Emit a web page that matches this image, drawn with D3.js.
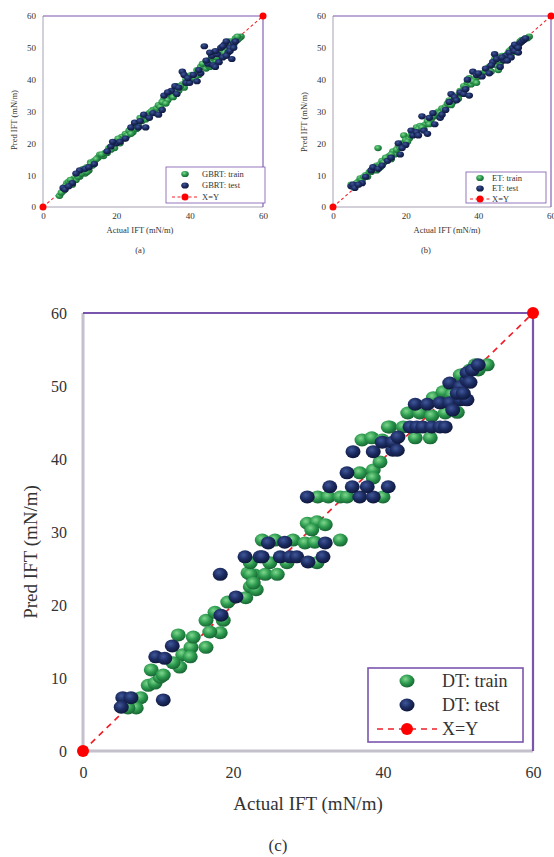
<!DOCTYPE html>
<html>
<head>
<meta charset="utf-8"/>
<title>IFT prediction scatter</title>
<script src="https://cdn.jsdelivr.net/npm/d3@7"></script>
<style>
  body{margin:0;background:#fff;}
  svg text{font-family:"Liberation Serif","Times New Roman","DejaVu Serif",serif;fill:#333;}
</style>
</head>
<body>
<svg id="chart" width="554" height="857"></svg>
<script>
// tick values
var yTicks = [0, 10, 20, 30, 40, 50, 60];
var xTicks = [0, 20, 40, 60];
var diag = [[0, 0], [60, 60]];
var SERIF = "'Liberation Serif', 'Times New Roman', serif";

// (a) GBRT  [actual, predicted]
var gbrtTrain = [[4.5,3.5],[5.5,5],[6.5,7.5],[7,8],[7.5,7.5],[8,8.5],[8.5,9],[9,8.5],[10,10],[11,11],[11.5,10.5],[12,12.5],[13,14],[13.5,13],[14,14.5],[15,15.5],[15.5,16.5],[16.5,16],[17,17],[18,18.5],[19,19],[19.5,18.5],[20,20.5],[21,21],[21.5,22],[22,21.5],[22.5,23],[23,22.5],[24,24.5],[25,26],[26,25.5],[26.5,28],[27,27],[28,27.5],[29,29.5],[30,30.5],[31,31],[31.5,32],[32,31.5],[33,34],[34,33.5],[35,35],[36,37],[37,36.5],[38,38.5],[38.5,37.5],[39,40],[40,39.5],[41,41],[42,43],[42.5,41.5],[43,44],[44,45],[44.5,43.5],[45,46],[46,45.5],[46.5,47],[47,46],[48,48.5],[48.5,47.5],[49,49],[50,50.5],[50.5,49.5],[51,52],[52,51],[52.5,53],[53,52.5],[54,53.5],[53.5,53],[10,9.5],[12.5,11.5],[24.5,23.5],[36.5,38],[45.5,44],
    [5,4.5],[6,6.5],[7.5,8.5],[8,7],[9.5,9.5],[10.5,10.5],[11,12],[12,11],[13,13.5],[14.5,15],[16,16.5],[17.5,17],[18.5,18],[20.5,21.5],[21,20],[23.5,24],[24,23],[25.5,24.5],[27.5,28.5],[29.5,30],[30.5,29.5],[32.5,33],[33.5,32.5],[34.5,35.5],[35.5,34.5],[37.5,38],[39.5,39],[40.5,41.5],[41.5,40.5],[43.5,45],[45,44.5],[46,47],[47.5,47],[49.5,48.5],[51.5,51.5],[53,53.5]];
var gbrtTest = [[5.5,6],[6,5.5],[8,7.5],[10,11.5],[11.5,12],[12.5,12.5],[17.5,17.5],[18.5,19],[20,20],[21,20.5],[24,25],[25,26.5],[26,25],[27.5,29],[28,25],[30,29.5],[31.5,29],[32.5,30.5],[33,35],[35,36.5],[36,38],[37,37.5],[38,42.5],[38.5,41.5],[39,39],[40,39],[41,41.5],[42,39.5],[43,42],[44,50.5],[45,45],[46,47.5],[46.5,44.5],[47.5,48],[48,45.5],[48.5,50],[49,47],[49.5,51],[50,52],[50.5,48.5],[51,50],[51.5,46.5],[52,51.5],[52.5,52],[47,49],[44.5,46],
    [7,6.5],[9,10.5],[14,13.5],[19,20.5],[22.5,21.5],[26.5,27],[29,28],[34,36],[36.5,35.5],[39.5,40.5],[42.5,43],[45.5,48.5],[47,44],[49,50.5],[50,47.5],[51,49],[52,50]];

// (b) ET
var etTrain = [[5,7],[6,6.5],[7,8],[7.5,9],[8,8.5],[9,10],[9.5,9.5],[10,11],[11,12],[12,13],[12.4,18.5],[13,13.5],[13.5,14.5],[14,14],[15,15.5],[15.5,16],[16.5,17.5],[17,16.5],[18,19],[19,20],[19.5,22.5],[20,21],[21,21.5],[22,23],[22.5,24],[23,25],[24,25.5],[25,24.5],[25.5,26],[26,27],[27,27.5],[28,28.5],[29,30],[30,31],[31,31.5],[31.5,32.5],[32,33.5],[33,33],[34,35],[35,36.5],[36,38],[37,39],[37.5,40.5],[38,38.5],[39,40],[40,41],[41,42],[42,42.5],[43,44],[44,45.5],[44.5,46.5],[45,44.5],[46,45],[46.5,47.5],[47,46.5],[48,48],[49,49.5],[50,50.5],[51,51],[52,52.5],[53,53],[54,53.5],[45.5,43],[12,11.5],[16,15],[28.5,29.5],[34.5,34],
    [6.5,7.5],[8.5,9.5],[10.5,11],[11.5,12.5],[13,12.5],[14.5,15.5],[16,16.5],[17.5,18],[18.5,18.5],[20.5,20.5],[21.5,22.5],[23.5,24.5],[24.5,25],[26.5,26],[27.5,28.5],[29.5,29.5],[30.5,30.5],[32.5,32],[33.5,34],[35.5,35.5],[36.5,37.5],[38.5,39.5],[39.5,39],[40.5,41.5],[42.5,43.5],[43.5,42.5],[45.5,46],[47.5,47],[48.5,49],[49.5,48.5],[51.5,52],[53.5,53]];
var etTest = [[5,6.5],[5.5,7],[6,6],[8,7.5],[10.5,11.5],[11,12.5],[12.5,12],[15,14.5],[18.5,16.5],[18,20],[20,19.5],[21.5,24],[22,22.5],[23,23.5],[24.5,28.5],[25,24],[26,23],[27.5,29.5],[28,26],[29.5,28],[30,29],[32,33],[32.5,35.5],[33.5,34.5],[35,36],[36,35.5],[37,40],[37.5,35],[38.5,42.5],[39.5,41.5],[41,41],[42,43.5],[43,42],[44,45.5],[44.5,48],[46,44],[47,46],[47.5,47.5],[48.5,48.5],[49,47],[49.5,50],[50,49],[50.5,50.5],[51,48.5],[51.5,51.5],[52,52],[52.5,52.5],[53,53],
    [7,7],[9,9.5],[13.5,13],[16,15.5],[19,18.5],[23.5,22.5],[26.5,28],[31,30.5],[34,33.5],[36.5,37],[40,42],[43.5,44.5],[45,46.5],[46.5,47],[48,46],[50,51],[51,50]];

// (c) DT
var dtTrain = [[6.7,7.0],[7.7,7.3],[7.1,5.9],[6.0,5.9],[8.7,9.0],[9.6,9.3],[10.3,10.1],[9.1,11.1],[10.7,10.4],[12.7,15.9],[13.3,13.2],[12.9,11.5],[14.4,14.2],[14.7,15.6],[16.4,14.2],[14.3,12.9],[12.0,12.1],[16.4,17.9],[17.6,19.0],[18.7,17.9],[18.3,16.2],[19.3,20.4],[16.9,16.3],[21.7,21.0],[22.3,22.5],[22.9,24.1],[23.1,22.1],[22.0,24.4],[22.3,24.2],[24.3,24.2],[25.9,24.2],[22.7,23.0],[22.3,25.8],[24.9,25.8],[27.2,25.8],[31.2,25.8],[23.9,28.9],[25.6,28.9],[28.0,28.9],[29.6,28.5],[30.9,28.6],[34.3,28.9],[29.9,31.2],[31.2,31.4],[32.3,31.0],[30.5,30.3],[31.3,34.8],[32.7,34.8],[34.3,34.8],[35.2,34.8],[40.0,34.8],[36.9,38.1],[38.7,38.5],[38.7,37.4],[37.2,42.6],[38.5,42.9],[39.9,42.6],[40.9,44.4],[39.6,39.6],[40.7,44.4],[42.7,44.4],[44.3,42.9],[46.3,42.9],[43.3,46.3],[44.9,46.3],[46.5,45.9],[49.9,46.4],[48.3,46.3],[46.7,48.4],[48.0,49.2],[49.2,48.8],[50.3,51.5],[51.6,52.2],[52.3,52.9],[53.9,52.9],[52.7,52.2]];
var dtTest = [[5.3,7.3],[6.4,7.3],[5.1,6.0],[10.7,7.0],[9.7,12.9],[10.9,12.7],[11.9,14.4],[18.4,18.6],[20.4,21.1],[18.3,24.2],[21.6,26.6],[23.6,26.6],[23.9,26.6],[26.3,26.6],[27.6,26.6],[28.5,26.6],[30.0,25.9],[32.0,26.6],[24.7,28.5],[26.9,28.6],[32.3,28.5],[29.9,34.8],[32.9,36.2],[36.9,34.8],[38.7,34.8],[35.9,36.2],[37.9,36.2],[40.7,36.2],[35.2,38.1],[36.0,41.0],[38.7,41.0],[41.3,41.2],[39.9,42.3],[41.3,42.3],[42.0,43.0],[41.9,41.2],[43.6,44.4],[44.5,44.4],[45.3,44.4],[46.5,44.4],[47.6,44.4],[48.3,44.4],[44.3,47.5],[45.9,47.5],[47.6,47.7],[48.9,47.7],[50.3,48.1],[51.2,48.1],[49.3,46.7],[48.9,50.4],[50.3,49.9],[51.2,50.8],[49.9,49.0],[50.7,49.0],[51.2,51.8],[51.9,52.2],[52.7,52.9],[51.6,50.5]];

var svg = d3.select("#chart");
var defs = svg.append("defs");

function ball(id, c0, c1, c2){
    var g = defs.append("radialGradient").attr("id", id)
        .attr("cx", "40%").attr("cy", "35%").attr("r", "65%");
    g.append("stop").attr("offset", "0%").attr("stop-color", c0);
    g.append("stop").attr("offset", "55%").attr("stop-color", c1);
    g.append("stop").attr("offset", "100%").attr("stop-color", c2);
}
ball("gGreen", "#7fd88e", "#2c9a4e", "#186634");
ball("gNavy", "#40579a", "#1c2c62", "#0f183c");

function panel(o){
    var x = d3.scaleLinear().domain([0, 60]).range([o.left, o.right]);
    var y = d3.scaleLinear().domain([0, 60]).range([o.bottom, o.top]);
    var g = svg.append("g");
    var s = o.k; // size factor

    // frame: grey left/bottom, purple top/right
    g.append("line").attr("x1", x(0)).attr("x2", x(0)).attr("y1", y(0)).attr("y2", y(60))
        .attr("stroke", "#c4c0cc").attr("stroke-width", 3 * s);
    g.append("line").attr("x1", x(0)).attr("x2", x(60)).attr("y1", y(0)).attr("y2", y(0))
        .attr("stroke", "#c4c0cc").attr("stroke-width", 3 * s);
    g.append("line").attr("x1", x(0)).attr("x2", x(60)).attr("y1", y(60)).attr("y2", y(60))
        .attr("stroke", "#7a55ad").attr("stroke-width", 2.2 * s);
    g.append("line").attr("x1", x(60)).attr("x2", x(60)).attr("y1", y(60)).attr("y2", y(0))
        .attr("stroke", "#7a55ad").attr("stroke-width", 2.2 * s);

    var yAx = d3.axisLeft(y).tickValues(yTicks).tickSize(0).tickPadding(o.yPad);
    var gy = g.append("g").attr("transform", "translate(" + x(0) + ",0)").call(yAx);
    var xAx = d3.axisBottom(x).tickValues(xTicks).tickSize(0).tickPadding(o.xPad);
    var gx = g.append("g").attr("transform", "translate(0," + y(0) + ")").call(xAx);
    [gx, gy].forEach(function(a){
        a.attr("font-family", SERIF);
        a.select(".domain").remove();
        a.selectAll("text").style("font-family", SERIF)
            .style("font-size", o.tick + "px").attr("fill", "#333");
    });

    // diagonal
    g.append("line").attr("x1", x(0)).attr("y1", y(0)).attr("x2", x(60)).attr("y2", y(60))
        .attr("stroke", "#f0202a").attr("stroke-width", 1.3 * s + 0.4)
        .attr("stroke-dasharray", (6 * s) + "," + (5 * s));

    function dots(data, fill){
        g.append("g").selectAll("ellipse").data(data).enter().append("ellipse")
            .attr("cx", function(d){ return x(d[0]); })
            .attr("cy", function(d){ return y(d[1]); })
            .attr("rx", o.rx).attr("ry", o.ry)
            .attr("fill", fill);
    }
    dots(o.train, "url(#gGreen)");
    dots(o.test, "url(#gNavy)");

    g.selectAll(".end").data(diag).enter().append("circle")
        .attr("cx", function(d){ return x(d[0]); })
        .attr("cy", function(d){ return y(d[1]); })
        .attr("r", o.endR).attr("fill", "#ff0000");

    // titles
    g.append("text").attr("x", (x(0) + x(60)) / 2 + o.xtShift).attr("y", o.xtY)
        .attr("text-anchor", "middle").style("font-family", SERIF).style("font-size", o.title + "px")
        .text("Actual IFT (mN/m)");
    g.append("text").attr("transform", "translate(" + o.ytX + "," + o.ytY + ") rotate(-90)")
        .attr("text-anchor", "middle").style("font-family", SERIF).style("font-size", o.title + "px")
        .text("Pred IFT (mN/m)");
    g.append("text").attr("x", o.capX).attr("y", o.capY).attr("text-anchor", "middle")
        .style("font-family", SERIF).style("font-size", o.cap + "px").text(o.caption);

    // legend
    var L = o.leg;
    g.append("rect").attr("x", L.x).attr("y", L.y).attr("width", L.w).attr("height", L.h)
        .attr("fill", "#fff").attr("stroke", "#7a55ad").attr("stroke-width", 1.6 * s);
    var items = [o.name + ": train", o.name + ": test", "X=Y"];
    items.forEach(function(t, i){
        var cy = L.y0 + i * L.dy;
        if (i < 2) {
            g.append("ellipse").attr("cx", L.dotX).attr("cy", cy).attr("rx", o.rx).attr("ry", o.ry)
                .attr("fill", i == 0 ? "url(#gGreen)" : "url(#gNavy)");
        } else {
            g.append("line").attr("x1", L.dotX - L.lineHalf).attr("x2", L.dotX + L.lineHalf)
                .attr("y1", cy).attr("y2", cy).attr("stroke", "#f0202a")
                .attr("stroke-width", 1.3 * s + 0.4).attr("stroke-dasharray", (6 * s) + "," + (5 * s));
            g.append("circle").attr("cx", L.dotX).attr("cy", cy).attr("r", o.endR).attr("fill", "#ff0000");
        }
        g.append("text").attr("x", L.textX).attr("y", cy).attr("dy", "0.35em")
            .style("font-family", SERIF).style("font-size", L.font + "px").text(t);
    });
}

panel({left: 43, right: 263, top: 16, bottom: 207, k: 0.5, rx: 3.8, ry: 3.1, endR: 3.5,
    tick: 9, yPad: 7, xPad: 6, title: 8.5, cap: 8.5, xtShift: -13, xtY: 233, ytX: 17, ytY: 120,
    capX: 140, capY: 253, caption: "(a)", name: "GBRT", train: gbrtTrain, test: gbrtTest,
    leg: {x: 166, y: 167, w: 99, h: 36, y0: 174, dy: 11.5, dotX: 185, lineHalf: 13, textX: 202, font: 8.5}});

panel({left: 333, right: 551, top: 16, bottom: 207, k: 0.5, rx: 3.8, ry: 3.1, endR: 3.5,
    tick: 9, yPad: 7, xPad: 6, title: 8.5, cap: 8.5, xtShift: 5, xtY: 233, ytX: 307, ytY: 122,
    capX: 426, capY: 253, caption: "(b)", name: "ET", train: etTrain, test: etTest,
    leg: {x: 466, y: 172, w: 80, h: 31, y0: 178, dy: 10.5, dotX: 480, lineHalf: 10, textX: 492, font: 8.5}});

panel({left: 83, right: 533, top: 313, bottom: 751, k: 1, rx: 7.5, ry: 6.5, endR: 6,
    tick: 16, yPad: 16, xPad: 16, title: 19, cap: 17, xtShift: 0, xtY: 810, ytX: 37, ytY: 552,
    capX: 278, capY: 851, caption: "(c)", name: "DT", train: dtTrain, test: dtTest,
    leg: {x: 368, y: 668, w: 155, h: 74, y0: 681, dy: 24, dotX: 407, lineHalf: 30, textX: 442, font: 18}});
</script>
</body>
</html>
